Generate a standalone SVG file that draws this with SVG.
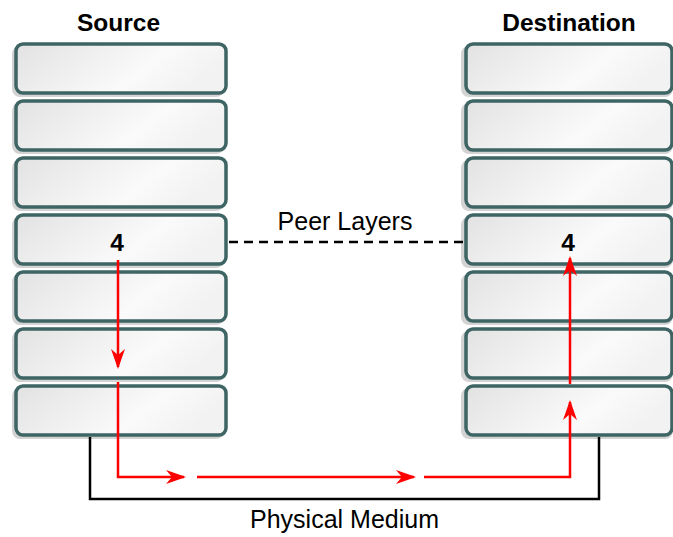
<svg xmlns="http://www.w3.org/2000/svg" width="673" height="537" viewBox="0 0 673 537">
<defs>
<linearGradient id="g" x1="0" y1="0" x2="1" y2="0.3">
<stop offset="0" stop-color="#e2e2e2"/>
<stop offset="0.7" stop-color="#fafafa"/>
<stop offset="1" stop-color="#f2f2f2"/>
</linearGradient>
<marker id="ah" viewBox="0 0 20 14" refX="18" refY="7" markerWidth="20" markerHeight="14" markerUnits="userSpaceOnUse" orient="auto">
<path d="M0,0 L20,7 L0,14 L6,7 Z" fill="#ff0000"/>
</marker>
</defs>
<style>
.box{fill:url(#g);stroke:#3e6464;stroke-width:3.5}
.sh{fill:#c8c8c8;opacity:0.8}
.t{font-family:"Liberation Sans",Arial,sans-serif;fill:#000}
.b{font-weight:bold;font-size:24.5px}
.n{font-size:25px}
.red{fill:none;stroke:#ff0000;stroke-width:2.5}
</style>
<g id="source">
<text class="t b" x="118.5" y="31" text-anchor="middle">Source</text>
<g id="s1"><rect class="sh" x="12" y="46" width="212" height="51" rx="8"/><rect class="box" x="16" y="44" width="210" height="49" rx="7"/></g>
<g id="s2"><rect class="sh" x="12" y="103" width="212" height="51" rx="8"/><rect class="box" x="16" y="101" width="210" height="49" rx="7"/></g>
<g id="s3"><rect class="sh" x="12" y="160" width="212" height="51" rx="8"/><rect class="box" x="16" y="158" width="210" height="49" rx="7"/></g>
<g id="s4"><rect class="sh" x="12" y="217" width="212" height="51" rx="8"/><rect class="box" x="16" y="215" width="210" height="49" rx="7"/><text class="t b" x="117" y="251" text-anchor="middle">4</text></g>
<g id="s5"><rect class="sh" x="12" y="274" width="212" height="51" rx="8"/><rect class="box" x="16" y="272" width="210" height="49" rx="7"/></g>
<g id="s6"><rect class="sh" x="12" y="331" width="212" height="51" rx="8"/><rect class="box" x="16" y="329" width="210" height="49" rx="7"/></g>
<g id="s7"><rect class="sh" x="12" y="388" width="212" height="51" rx="8"/><rect class="box" x="16" y="386" width="210" height="49" rx="7"/></g>
</g>
<g id="destination">
<text class="t b" x="569" y="31" text-anchor="middle">Destination</text>
<g id="d1"><rect class="sh" x="461" y="46" width="212" height="51" rx="8"/><rect class="box" x="466" y="44" width="206" height="49" rx="7"/></g>
<g id="d2"><rect class="sh" x="461" y="103" width="212" height="51" rx="8"/><rect class="box" x="466" y="101" width="206" height="49" rx="7"/></g>
<g id="d3"><rect class="sh" x="461" y="160" width="212" height="51" rx="8"/><rect class="box" x="466" y="158" width="206" height="49" rx="7"/></g>
<g id="d4"><rect class="sh" x="461" y="217" width="212" height="51" rx="8"/><rect class="box" x="466" y="215" width="206" height="49" rx="7"/><text class="t b" x="568" y="251" text-anchor="middle">4</text></g>
<g id="d5"><rect class="sh" x="461" y="274" width="212" height="51" rx="8"/><rect class="box" x="466" y="272" width="206" height="49" rx="7"/></g>
<g id="d6"><rect class="sh" x="461" y="331" width="212" height="51" rx="8"/><rect class="box" x="466" y="329" width="206" height="49" rx="7"/></g>
<g id="d7"><rect class="sh" x="461" y="388" width="212" height="51" rx="8"/><rect class="box" x="466" y="386" width="206" height="49" rx="7"/></g>
</g>
<g id="connectors">
<line x1="229" y1="242" x2="463" y2="242" stroke="#000" stroke-width="2.5" stroke-dasharray="9,6"/>
<path d="M90,437 V499 H599 V437" fill="none" stroke="#000" stroke-width="2.5"/>
<path class="red" d="M118,260 V367" marker-end="url(#ah)"/>
<path class="red" d="M118,382 V477 H184" marker-end="url(#ah)"/>
<path class="red" d="M197,477 H414" marker-end="url(#ah)"/>
<path class="red" d="M424,477 H570 V402" marker-end="url(#ah)"/>
<path class="red" d="M570,384 V258" marker-end="url(#ah)"/>
</g>
<text class="t n" x="345" y="230" text-anchor="middle">Peer Layers</text>
<text class="t n" x="344.5" y="528" text-anchor="middle">Physical Medium</text>
</svg>
